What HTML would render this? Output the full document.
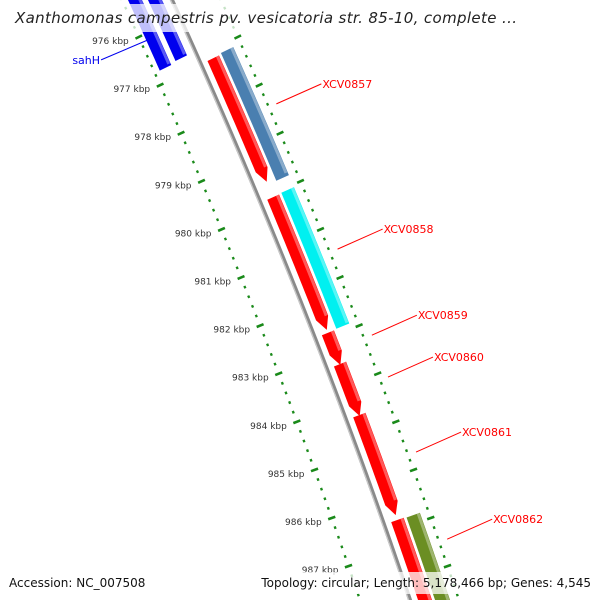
<!DOCTYPE html>
<html><head><meta charset="utf-8"><style>
html,body{margin:0;padding:0;background:#fff;width:600px;height:600px;overflow:hidden;}
svg{display:block;overflow:hidden;font-family:"DejaVu Sans","Liberation Sans",sans-serif;}
</style></head><body>
<svg id="map" width="600" height="600" viewBox="0 0 600 600" xmlns="http://www.w3.org/2000/svg">
<g id="ticks"></g>
<g id="feat"></g>
<g id="labs"></g>
<rect x="0" y="4" width="600" height="28" fill="#fff" fill-opacity="0.75"/>
<text x="15" y="23" font-size="15" font-style="italic" fill="#222" textLength="502" lengthAdjust="spacing">Xanthomonas campestris pv. vesicatoria str. 85-10, complete ...</text>
<rect x="0" y="572" width="600" height="22" fill="#fff" fill-opacity="0.75"/>
<text x="9" y="587" font-size="12" fill="#111">Accession: NC_007508</text>
<text x="591" y="587" font-size="12" text-anchor="end" fill="#111">Topology: circular; Length: 5,178,466 bp; Genes: 4,545</text>
</svg>
<script>
const tickKbp=[976,977,978,979,980,981,982,983,984,985,986,987];
const featNames=["sahH-a","sahH-b","XCV0857","XCV0857-b","XCV0858","XCV0858-b","XCV0859","XCV0860","XCV0861","XCV0862","XCV0862-b"];
const featStart=[975.0,975.0,976.44,976.27,979.33,979.18,982.15,982.80,983.86,986.04,985.94];
const featEnd=[976.64,976.44,979.01,978.93,982.09,982.01,982.82,983.88,985.94,988.0,988.0];
const featTrack=["rev2","rev1","fwd1","fwd2","fwd1","fwd2","fwd1","fwd1","fwd1","fwd1","fwd2"];
const featColor=["#0000ee","#0000ee","#ff0000","#4a7fb0","#ff0000","#00f0f0","#ff0000","#ff0000","#ff0000","#ff0000","#6b8e23"];
const labelText=["sahH","XCV0857","XCV0858","XCV0859","XCV0860","XCV0861","XCV0862"];
const labelKbp=[976.06,977.39,980.41,982.2,983.07,984.63,986.44];
const NS="http://www.w3.org/2000/svg";
function yOf(k){return 37+(k-976)*48.1;}
function cx(y){return 172+0.4567*y-0.0001*y*y;}
function slope(y){return 0.4567-0.0002*y;}
// horizontal offset; 'shear' tilts end caps perpendicular around a center offset
function pt(k,off,center){const y=yOf(k);const d=slope(y);const c=(center===undefined)?off:center;const yy=y-(off-c)*d*0.9;return [cx(yy)+off,yy];}
const tracks={rev2:[-44,-30],rev1:[-24,-10],fwd1:[8,22],fwd2:[25,40]};
function mk(tag,attrs,parent){const e=document.createElementNS(NS,tag);for(const a in attrs)e.setAttribute(a,attrs[a]);parent.appendChild(e);return e;}
const tg=document.getElementById('ticks'),fg=document.getElementById('feat'),lg=document.getElementById('labs');
let pa=[],pb=[];
for(let k=974.5;k<=989;k+=0.1){pa.push(pt(k,0).join(','));pb.push(pt(k,-1.5).join(','));}
let bb=mk('polyline',{points:pa.join(' '),fill:'none',stroke:'#8a8a8a','stroke-width':4},fg);


let bb2=mk('polyline',{points:pb.join(' '),fill:'none',stroke:'#c8c8c8','stroke-width':1.3},fg);


for(let i=-5;i<=70;i++){
  const k=975.0+i*0.2;
  const major=Math.abs(k-Math.round(k))<0.01;
  [-50,49].forEach(off=>{
    const len=major?8:2.5;
    const a=pt(k,off-len/2,off),b=pt(k,off+len/2,off);
    const t=mk('line',{x1:a[0],y1:a[1],x2:b[0],y2:b[1],stroke:'#1a8a1a','stroke-width':2.6},tg);
    
    
  });
}
tickKbp.forEach(k=>{
  const p=pt(k,-60);
  const t=mk('text',{x:p[0],y:p[1]+7,'font-size':9,'text-anchor':'end',fill:'#333'},tg);
  t.textContent=k+' kbp';
  
  
});
featStart.forEach((s,i)=>{
  const e=featEnd[i],tr=tracks[featTrack[i]];
  const c=(tr[0]+tr[1])/2;
  const fwd=featColor[i]=='#ff0000'&&featTrack[i]=='fwd1';
  const arrow=fwd?0.25:0;
  const left=[],right=[];
  const step=Math.min(0.1,(e-arrow-s)/4);
  for(let k=s;k<=e-arrow+1e-6;k+=step){left.push(pt(k,tr[0],c));right.push(pt(k,tr[1],c));}
  left.push(pt(e-arrow,tr[0],c));right.push(pt(e-arrow,tr[1],c));
  let pts=left.slice();
  if(fwd)pts.push(pt(e,c,c));
  pts=pts.concat(right.reverse());
  const g=mk('polygon',{points:pts.map(p=>p.join(',')).join(' '),fill:featColor[i]},fg);
  
  
  const hl=[];for(let k=s;k<=e-arrow;k+=0.1)hl.push(pt(k,tr[1]-2,c).join(','));
  const h=mk('polyline',{points:hl.join(' '),fill:'none',stroke:'#fff','stroke-opacity':0.35,'stroke-width':3},fg);
  
  
});
labelText.forEach((t,i)=>{
  const k=labelKbp[i];
  const rev=i==0;
  const a=rev?pt(k,-42):pt(k,58);
  const b=rev?[a[0]-47,a[1]+20]:[a[0]+45,a[1]-20];
  const col=rev?'#0000ee':'#ff0000';
  const l=mk('line',{x1:a[0],y1:a[1],x2:b[0],y2:b[1],stroke:col,'stroke-width':1},lg);
  
  
  const tx=mk('text',{x:rev?b[0]-1:b[0]+1,y:b[1]+4,'font-size':11,fill:col,'text-anchor':rev?'end':'start'},lg);
  tx.textContent=t;
  
  
});
</script>
</body></html>
